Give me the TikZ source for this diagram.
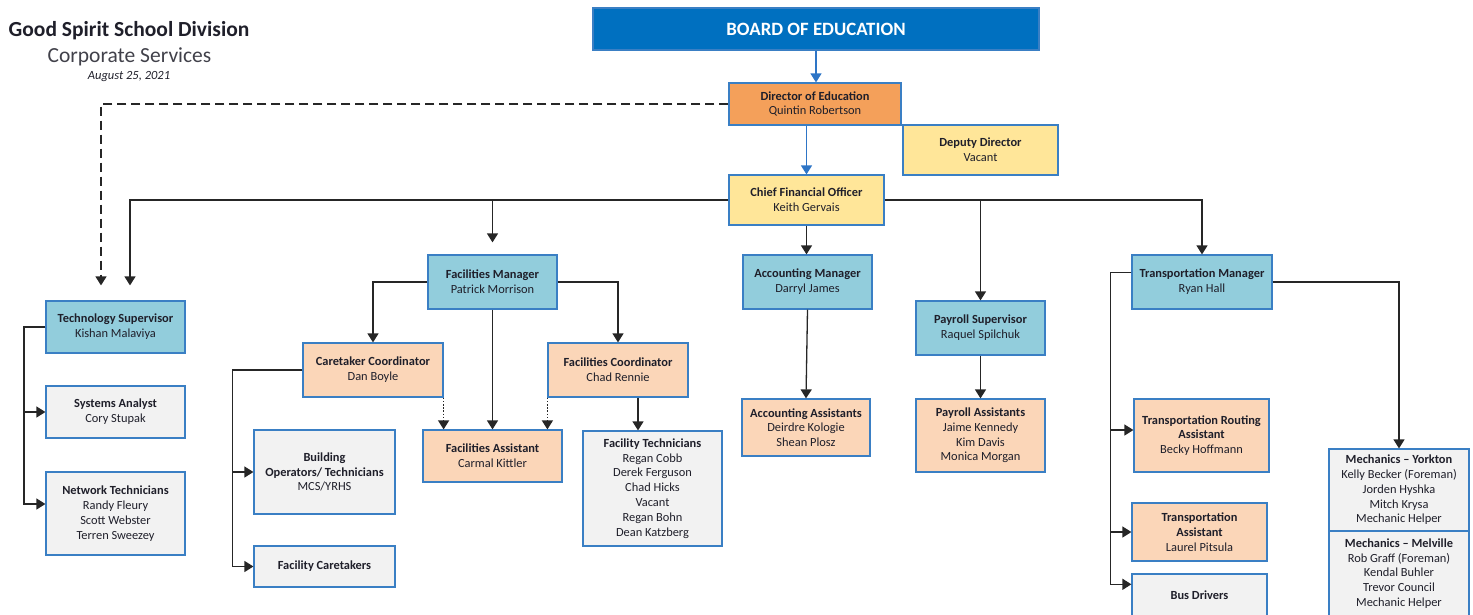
\documentclass[tikz,border=0pt]{standalone}
\usepackage{fontspec}
\setmainfont{Carlito}
\usetikzlibrary{arrows.meta,calc}
\definecolor{bordblue}{HTML}{3A7FC4}
\definecolor{boardblue}{HTML}{0070C0}
\definecolor{linkblue}{HTML}{2E75C6}
\definecolor{dirorange}{HTML}{F4A05A}
\definecolor{paleyellow}{HTML}{FFE699}
\definecolor{tealbox}{HTML}{92CDDC}
\definecolor{peach}{HTML}{FBD6B8}
\definecolor{lgray}{HTML}{F2F2F2}
\definecolor{txt}{HTML}{1F1F2A}
\begin{document}
\begin{tikzpicture}[x=1pt,y=-1pt,
  box/.style={draw=bordblue, line width=1.2pt, inner sep=0pt, align=center,
    font=\fontsize{12.4}{14.8}\selectfont, text=txt},
  tealnode/.style={box, fill=tealbox},
  peachnode/.style={box, fill=peach},
  graynode/.style={box, fill=lgray},
  yellownode/.style={box, fill=paleyellow},
  link/.style={draw=black!85, line width=1.3pt, -{Triangle[length=9pt,width=11pt]}},
  bluelink/.style={draw=linkblue, line width=1.3pt, -{Triangle[length=9pt,width=11pt]}},
  dotlink/.style={link, dash pattern=on 1.6pt off 1.6pt},
  dashlink/.style={link, dash pattern=on 9pt off 5pt},
]
\useasboundingbox (0,0) rectangle (1473,614);

% titles
\node[font=\fontsize{21.5}{23}\selectfont\bfseries, text=txt] (title) at (129,31) {Good Spirit School Division};
\node[font=\fontsize{21.5}{23}\selectfont, text=txt!85] (sub) at (129.5,57) {Corporate Services};
\node[font=\fontsize{12.5}{14}\selectfont\itshape, text=txt] (date) at (129,76.5) {August 25, 2021};

% top
\node[box, fill=boardblue, text=white, minimum width=446pt, minimum height=42pt,
  font=\fontsize{18.8}{20}\selectfont\bfseries] (board) at (816,29) {BOARD OF EDUCATION};
\node[box, fill=dirorange, minimum width=172pt, minimum height=42pt] (dir) at (815,104)
  {\textbf{Director of Education}\\Quintin Robertson};
\node[yellownode, minimum width=155pt, minimum height=50pt] (dep) at (980.5,150)
  {\textbf{Deputy Director}\\Vacant};
\node[yellownode, minimum width=155pt, minimum height=50pt] (cfo) at (806.5,200)
  {\textbf{Chief Financial Officer}\\Keith Gervais};

% technology
\node[tealnode, minimum width=139pt, minimum height=52pt] (ts) at (115.5,327)
  {\textbf{Technology Supervisor}\\Kishan Malaviya};
\node[graynode, minimum width=139pt, minimum height=52pt] (sa) at (115.5,412)
  {\textbf{Systems Analyst}\\Cory Stupak};
\node[graynode, minimum width=139pt, minimum height=83pt] (nt) at (115.5,513.5)
  {\textbf{Network Technicians}\\Randy Fleury\\Scott Webster\\Terren Sweezey};

% facilities
\node[tealnode, minimum width=129pt, minimum height=54pt] (fm) at (492.5,282)
  {\textbf{Facilities Manager}\\Patrick Morrison};
\node[peachnode, minimum width=140pt, minimum height=54pt] (cc) at (373,370)
  {\textbf{Caretaker Coordinator}\\Dan Boyle};
\node[peachnode, minimum width=140pt, minimum height=54pt] (fc) at (618,370)
  {\textbf{Facilities Coordinator}\\Chad Rennie};
\node[peachnode, minimum width=139pt, minimum height=52pt] (fa) at (492.5,456)
  {\textbf{Facilities Assistant}\\Carmal Kittler};
\node[graynode, minimum width=139pt, minimum height=115pt] (ft) at (652.5,488.5)
  {\textbf{Facility Technicians}\\Regan Cobb\\Derek Ferguson\\Chad Hicks\\Vacant\\Regan Bohn\\Dean Katzberg};
\node[graynode, minimum width=141pt, minimum height=84pt] (bo) at (324.5,472)
  {\textbf{Building}\\\textbf{Operators/ Technicians}\\MCS/YRHS};
\node[graynode, minimum width=141pt, minimum height=41pt] (fcar) at (324.5,566.5)
  {\textbf{Facility Caretakers}};

% accounting / payroll
\node[tealnode, minimum width=129pt, minimum height=54pt] (am) at (807.5,282)
  {\textbf{Accounting Manager}\\Darryl James};
\node[peachnode, minimum width=128pt, minimum height=57pt] (aa) at (806,427.5)
  {\textbf{Accounting Assistants}\\Deirdre Kologie\\Shean Plosz};
\node[tealnode, minimum width=129pt, minimum height=54pt] (ps) at (980.5,328)
  {\textbf{Payroll Supervisor}\\Raquel Spilchuk};
\node[peachnode, minimum width=129pt, minimum height=73pt] (pa) at (980.5,435.5)
  {\textbf{Payroll Assistants}\\Jaime Kennedy\\Kim Davis\\Monica Morgan};

% transportation
\node[tealnode, minimum width=140pt, minimum height=54pt] (tm) at (1202,282)
  {\textbf{Transportation Manager}\\Ryan Hall};
\node[peachnode, minimum width=135pt, minimum height=73pt] (tra) at (1201.5,435.5)
  {\textbf{Transportation Routing}\\\textbf{Assistant}\\Becky Hoffmann};
\node[peachnode, minimum width=135pt, minimum height=58pt] (ta) at (1199.5,532)
  {\textbf{Transportation}\\\textbf{Assistant}\\Laurel Pitsula};
\node[graynode, minimum width=135pt, minimum height=42pt] (bd) at (1199.5,595)
  {\textbf{Bus Drivers}};
\node[graynode, minimum width=140pt, minimum height=82pt] (my) at (1399,490)
  {\textbf{Mechanics -- Yorkton}\\Kelly Becker (Foreman)\\Jorden Hyshka\\Mitch Krysa\\Mechanic Helper};
\node[graynode, minimum width=140pt, minimum height=85pt] (mm) at (1399,573.5)
  {\textbf{Mechanics -- Melville}\\Rob Graff (Foreman)\\Kendal Buhler\\Trevor Council\\Mechanic Helper};

% connectors: top
\draw[bluelink] (board.south) -- (board.south |- dir.north);
\draw[bluelink] (cfo.north |- dir.south) -- (cfo.north);
\draw[dashlink, shorten >=15pt] (dir.west) -| ($(ts.north)+(-14.5,0)$);
\draw[link, shorten >=15pt] (cfo.west) -| ($(ts.north)+(14.5,0)$);
\draw[link, shorten >=12pt] (fm.north |- cfo.west) -- (fm.north);
\draw[link] (cfo.south) -- (cfo.south |- am.north);
\draw[link] (ps.north |- cfo.east) -- (ps.north);
\draw[link] (cfo.east) -| (tm.north);

% technology branch
\draw[link] (ts.west) -- ++(-21.5,0) |- (sa.west);
\draw[link] (ts.west) -- ++(-21.5,0) |- ($(nt.west)+(0,-9.5)$);

% facilities branch
\draw[link] (fm.west) -| (cc.north);
\draw[link] (fm.east) -| (fc.north);
\draw[link] (fm.south) -- (fa.north);
\draw[dotlink] (cc.south east) -- (cc.south east |- fa.north);
\draw[dotlink] (fc.south west) -- (fc.south west |- fa.north);
\coordinate (ftin) at ($(fc.south)+(20,0)$);
\draw[link] (ftin) -- (ftin |- ft.north);
\draw[link] (cc.west) -- ++(-69.7,0) |- (bo.west);
\draw[link] (cc.west) -- ++(-69.7,0) |- (fcar.west);

% accounting / payroll
\draw[link] (am.south) -- (aa.north);
\draw[link] (ps.south) -- (pa.north);

% transportation
\coordinate (tmw) at ($(tm.west)+(0,-9.3)$);
\draw[link] (tmw) -- ++(-20.7,0) |- ($(tra.west)+(0,-5.5)$);
\draw[link] (tmw) -- ++(-20.7,0) |- (ta.west);
\draw[link] (tmw) -- ++(-20.7,0) |- ($(bd.west)+(0,-10.7)$);
\draw[link] (tm.east) -| (my.north);
\end{tikzpicture}
\end{document}
